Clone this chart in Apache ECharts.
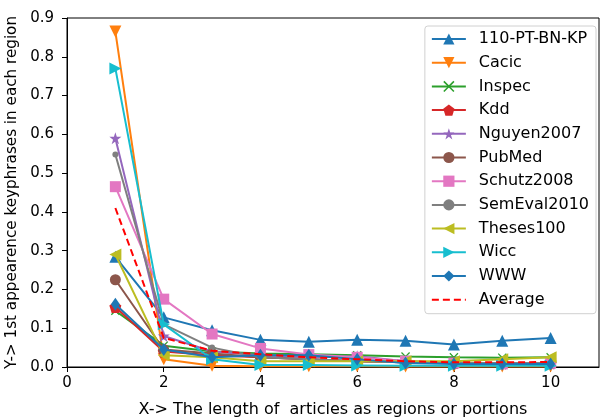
<!DOCTYPE html>
<html><head><meta charset="utf-8">
<script src="https://cdn.jsdelivr.net/npm/echarts@6/dist/echarts.min.js"></script>
<style>html,body{margin:0;padding:0;background:#fff}#c{width:602px;height:419px}</style>
</head><body><div id="c"></div>
<script>
const xValues = [1,2,3,4,5,6,7,8,9,10];
const seriesNames = ['110-PT-BN-KP','Cacic','Inspec','Kdd','Nguyen2007','PubMed','Schutz2008','SemEval2010','Theses100','Wicc','WWW','Average'];
const v110 = [0.284,0.128,0.095,0.07,0.065,0.07,0.068,0.058,0.068,0.075];
const vCacic = [0.865,0.02,0.003,0.002,0.002,0.002,0.001,0.001,0.001,0.001];
const vInspec = [0.145,0.055,0.04,0.035,0.033,0.03,0.027,0.025,0.024,0.025];
const vKdd = [0.155,0.04,0.03,0.025,0.02,0.015,0.012,0.01,0.01,0.01];
const vNguyen = [0.59,0.08,0.04,0.03,0.025,0.028,0.015,0.01,0.008,0.008];
const vPubMed = [0.225,0.045,0.035,0.025,0.02,0.015,0.012,0.01,0.01,0.01];
const vSchutz = [0.465,0.175,0.085,0.048,0.032,0.025,0.015,0.01,0.008,0.01];
const vSemEval = [0.548,0.11,0.05,0.025,0.02,0.015,0.012,0.01,0.01,0.01];
const vTheses = [0.29,0.03,0.025,0.015,0.015,0.015,0.015,0.015,0.02,0.025];
const vWicc = [0.77,0.11,0.02,0.005,0.005,0.004,0.003,0.003,0.003,0.003];
const vWWW = [0.162,0.045,0.025,0.03,0.03,0.02,0.01,0.008,0.008,0.008];
const vAvg = [0.41,0.075,0.042,0.033,0.025,0.02,0.015,0.012,0.012,0.013];
const yTicks = [0,0.1,0.2,0.3,0.4,0.5,0.6,0.7,0.8,0.9];
const xTicks = [0,2,4,6,8,10];

const allValues = [v110,vCacic,vInspec,vKdd,vNguyen,vPubMed,vSchutz,vSemEval,vTheses,vWicc,vWWW,vAvg];
const colors = ['#1f77b4','#ff7f0e','#2ca02c','#d62728','#9467bd','#8c564b','#e377c2','#7f7f7f','#bcbd22','#17becf','#1f77b4','#ff0000'];
const symbols = [
  'triangle',
  'path://M0,0 L10,0 L5,10 Z',
  'path://M1,0 L5,4 L9,0 L10,1 L6,5 L10,9 L9,10 L5,6 L1,10 L0,9 L4,5 L0,1 Z',
  'path://M5,0 L10,3.8 L8.1,10 L1.9,10 L0,3.8 Z',
  'path://M5,0 L6.2,3.6 L10,3.6 L6.9,5.9 L8.1,9.5 L5,7.3 L1.9,9.5 L3.1,5.9 L0,3.6 L3.8,3.6 Z',
  'circle',
  'rect',
  'circle',
  'path://M10,0 L10,10 L0,5 Z',
  'path://M0,0 L10,5 L0,10 Z',
  'diamond',
  'none'
];
const sizes = [12,12,9,12,12,11,11,6,12,12,[9,13],0];

const font = 'DejaVu Sans';
const series = seriesNames.map((n,i)=>({
  name:n, type:'line',
  data: xValues.map((x,j)=>[x, allValues[i][j]]),
  symbol: symbols[i], symbolSize: sizes[i], showSymbol: i<11,
  lineStyle:{color:colors[i], width:2, type: i===11?[7,4]:'solid'},
  itemStyle:{color:colors[i]},
  emphasis:{disabled:true},
  animation:false, z: 2+i
}));

const chart = echarts.init(document.getElementById('c'));
chart.setOption({
  animation:false,
  grid:{left:67,right:3,top:18,bottom:52,containLabel:false,outerBoundsMode:'none',show:true,borderColor:'#000',borderWidth:1,backgroundColor:'transparent'},
  xAxis:{type:'value',min:0,max:11,interval:2,
    name:'X-> The length of  articles as regions or portions',nameLocation:'middle',nameGap:35,
    nameTextStyle:{fontFamily:font,fontSize:16,color:'#000'},
    axisLine:{show:true,lineStyle:{color:'#000',width:1}},
    axisTick:{show:true,length:5,lineStyle:{color:'#000'}},
    axisLabel:{fontFamily:font,fontSize:15,color:'#000',margin:9,showMaxLabel:false,
      formatter:v=>xTicks.includes(v)?String(v):''},
    splitLine:{show:false}},
  yAxis:{type:'value',min:0,max:0.9,interval:0.1,
    name:'Y-> 1st appearence keyphrases in each region',nameLocation:'middle',nameGap:46,
    nameTextStyle:{fontFamily:font,fontSize:15.2,color:'#000'},
    axisLine:{show:true,lineStyle:{color:'#000',width:1}},
    axisTick:{show:true,length:5,lineStyle:{color:'#000'}},
    axisLabel:{fontFamily:font,fontSize:15,color:'#000',margin:13,
      formatter:v=>yTicks.some(t=>Math.abs(t-v)<1e-9)?v.toFixed(1):''},
    splitLine:{show:false}},
  legend:{orient:'vertical',right:6,top:26,itemWidth:34,itemHeight:14,itemGap:7.7,
    padding:[5,7,6,6],borderColor:'#d0d0d0',borderWidth:1,borderRadius:3,backgroundColor:'rgba(255,255,255,0.8)',
    textStyle:{fontFamily:font,fontSize:16,color:'#000',padding:[0,0,0,8]},
    data:seriesNames.map(n=>n==='Average'?{name:n,itemStyle:{opacity:0}}:n)},
  series
});
</script></body></html>
